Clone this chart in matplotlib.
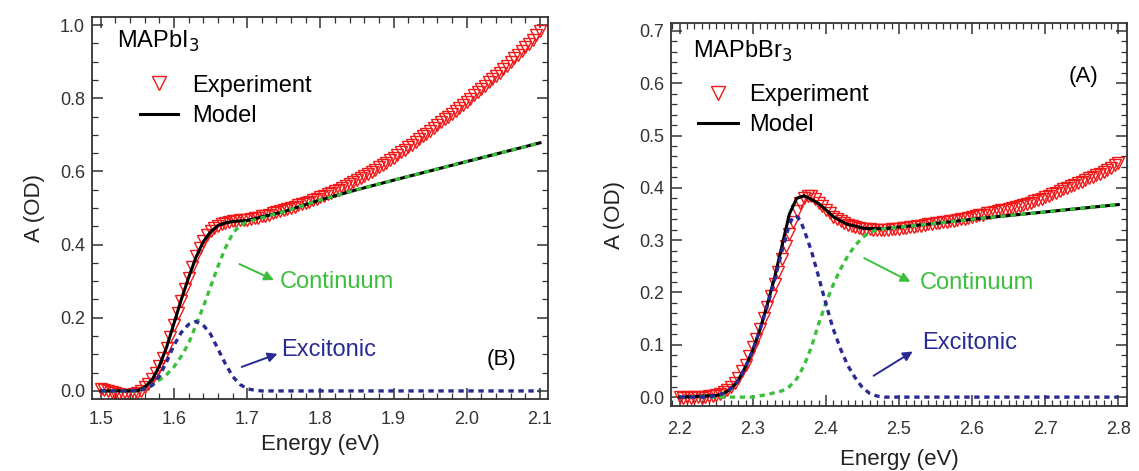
import numpy as np
import matplotlib
matplotlib.use("Agg")
import matplotlib.pyplot as plt
from matplotlib.ticker import MultipleLocator

plt.rcParams["font.family"] = ["Liberation Sans", "DejaVu Sans"]

# ---- MAPbI3 (left panel), experiment sampled every 5 meV from 1.50 to 2.10 eV ----
exp_left = [0.004, 0.002, 0.000, -0.004, -0.007, -0.009, -0.010, -0.011, -0.010, -0.008,
            -0.005, 0.001, 0.010, 0.020, 0.032, 0.048, 0.068, 0.091, 0.118, 0.148,
            0.180, 0.212, 0.245, 0.278, 0.310, 0.340, 0.368, 0.391, 0.410, 0.425,
            0.437, 0.446, 0.452, 0.457, 0.460, 0.462, 0.464, 0.465, 0.466, 0.467,
            0.468, 0.470, 0.472, 0.474, 0.477, 0.479, 0.482, 0.485, 0.488, 0.491,
            0.494, 0.497, 0.500, 0.503, 0.507, 0.510, 0.514, 0.517, 0.521, 0.525,
            0.529, 0.533, 0.537, 0.541, 0.546, 0.550, 0.555, 0.560, 0.565, 0.570,
            0.576, 0.581, 0.587, 0.593, 0.599, 0.605, 0.611, 0.617, 0.624, 0.631,
            0.638, 0.645, 0.652, 0.659, 0.666, 0.673, 0.681, 0.688, 0.696, 0.703,
            0.711, 0.718, 0.726, 0.734, 0.742, 0.750, 0.758, 0.766, 0.774, 0.782,
            0.791, 0.799, 0.808, 0.816, 0.825, 0.834, 0.843, 0.852, 0.861, 0.870,
            0.880, 0.889, 0.899, 0.909, 0.919, 0.929, 0.939, 0.949, 0.960, 0.972,
            0.985]
e_exp_left = np.linspace(1.50, 2.10, len(exp_left))

e_mod_left = [1.50, 1.55, 1.56, 1.57, 1.58, 1.59, 1.60, 1.61, 1.62, 1.63, 1.64, 1.65,
              1.66, 1.67, 1.68, 1.70, 1.75, 1.80, 1.85, 1.90, 2.00, 2.10]
mod_left = [0.0, 0.0, 0.01, 0.03, 0.068, 0.12, 0.185, 0.25, 0.31, 0.365, 0.408, 0.435,
            0.452, 0.459, 0.463, 0.466, 0.49, 0.522, 0.55, 0.576, 0.627, 0.678]

e_cont_left = [1.50, 1.55, 1.56, 1.57, 1.58, 1.59, 1.60, 1.61, 1.62, 1.63, 1.64, 1.65,
               1.66, 1.67, 1.68, 1.69, 1.70, 1.75, 1.80, 1.85, 1.90, 2.00, 2.10]
cont_left = [0.0, 0.0, 0.005, 0.015, 0.03, 0.045, 0.066, 0.095, 0.13, 0.18, 0.23, 0.285,
             0.34, 0.39, 0.43, 0.452, 0.462, 0.49, 0.522, 0.55, 0.576, 0.627, 0.678]

e_exc_left = [1.50, 1.54, 1.56, 1.57, 1.58, 1.59, 1.60, 1.61, 1.62, 1.63, 1.64, 1.65,
              1.66, 1.67, 1.68, 1.69, 1.70, 1.71, 1.72, 2.10]
exc_left = [0.0, 0.0, 0.005, 0.015, 0.04, 0.08, 0.125, 0.16, 0.182, 0.19, 0.18, 0.155,
            0.115, 0.075, 0.04, 0.018, 0.006, 0.002, 0.0, 0.0]

# ---- MAPbBr3 (right panel), experiment sampled every 5 meV from 2.20 to 2.80 eV ----
exp_right = [0.001, -0.002, 0.000, -0.001, 0.001, 0.000, -0.001, 0.001, 0.002, 0.003,
             0.004, 0.006, 0.009, 0.013, 0.019, 0.027, 0.037, 0.049, 0.062, 0.078,
             0.095, 0.112, 0.131, 0.151, 0.172, 0.194, 0.217, 0.240, 0.264, 0.288,
             0.312, 0.335, 0.355, 0.371, 0.381, 0.385, 0.384, 0.379, 0.372, 0.365,
             0.358, 0.351, 0.345, 0.340, 0.336, 0.332, 0.329, 0.327, 0.325, 0.323,
             0.322, 0.321, 0.321, 0.320, 0.320, 0.320, 0.320, 0.320, 0.321, 0.321,
             0.322, 0.323, 0.324, 0.325, 0.326, 0.327, 0.328, 0.329, 0.330, 0.331,
             0.332, 0.333, 0.334, 0.335, 0.336, 0.337, 0.338, 0.340, 0.341, 0.343,
             0.345, 0.346, 0.348, 0.349, 0.351, 0.352, 0.354, 0.355, 0.357, 0.358,
             0.360, 0.362, 0.364, 0.366, 0.368, 0.370, 0.372, 0.374, 0.376, 0.379,
             0.382, 0.385, 0.388, 0.391, 0.394, 0.397, 0.400, 0.403, 0.406, 0.409,
             0.412, 0.415, 0.418, 0.421, 0.424, 0.427, 0.430, 0.434, 0.438, 0.443,
             0.448]
e_exp_right = np.linspace(2.20, 2.80, len(exp_right))

e_mod_right = [2.20, 2.25, 2.26, 2.27, 2.28, 2.29, 2.30, 2.31, 2.32, 2.33, 2.34, 2.35,
               2.36, 2.37, 2.38, 2.39, 2.40, 2.41, 2.42, 2.43, 2.44, 2.45, 2.46, 2.48,
               2.50, 2.55, 2.60, 2.70, 2.80]
mod_right = [0.0, 0.003, 0.007, 0.016, 0.032, 0.058, 0.09, 0.13, 0.178, 0.23, 0.29, 0.35,
             0.38, 0.385, 0.378, 0.37, 0.358, 0.345, 0.337, 0.33, 0.327, 0.323, 0.322,
             0.322, 0.325, 0.332, 0.34, 0.354, 0.368]

e_cont_right = [2.20, 2.30, 2.32, 2.34, 2.35, 2.36, 2.37, 2.38, 2.39, 2.40, 2.41, 2.42,
                2.43, 2.44, 2.45, 2.46, 2.47, 2.48, 2.50, 2.55, 2.60, 2.70, 2.80]
cont_right = [0.0, 0.0, 0.005, 0.012, 0.02, 0.035, 0.06, 0.095, 0.14, 0.18, 0.215, 0.245,
              0.27, 0.29, 0.305, 0.315, 0.32, 0.322, 0.325, 0.332, 0.34, 0.354, 0.368]

e_exc_right = [2.20, 2.24, 2.25, 2.26, 2.27, 2.28, 2.29, 2.30, 2.31, 2.32, 2.33, 2.34,
               2.35, 2.355, 2.36, 2.365, 2.37, 2.38, 2.39, 2.40, 2.41, 2.42, 2.43, 2.44,
               2.45, 2.46, 2.47, 2.48, 2.80]
exc_right = [0.0, 0.0, 0.003, 0.007, 0.016, 0.032, 0.058, 0.09, 0.13, 0.175, 0.225, 0.28,
             0.33, 0.345, 0.345, 0.338, 0.32, 0.28, 0.23, 0.178, 0.13, 0.092, 0.06, 0.037,
             0.018, 0.007, 0.002, 0.0, 0.0]

RED = "#f01818"
GREEN = "#3cbf3c"
BLUE = "#2a2a95"
DOT = (0, (1.6, 1.4))


def draw_panel(ax, e_exp, exp, e_mod, mod, e_cont, cont, e_exc, exc):
    ax.plot(e_exp, exp, linestyle="none", marker="v", markersize=8.5,
            markerfacecolor="none", markeredgecolor=RED, markeredgewidth=1.0,
            label="Experiment", zorder=2)
    ax.plot(e_mod, mod, color="black", lw=2.2, label="Model", zorder=3)
    ax.plot(e_cont, cont, color=GREEN, lw=2.4, linestyle=DOT, zorder=4)
    ax.plot(e_exc, exc, color=BLUE, lw=2.4, linestyle=DOT, zorder=4)
    ax.tick_params(which="both", direction="in", top=True, right=True,
                   labelsize=13, labelcolor="#333333", color="#333333")
    ax.tick_params(which="major", length=8, width=1.1)
    ax.tick_params(which="minor", length=4, width=0.9)
    for s in ax.spines.values():
        s.set_linewidth(1.3)
        s.set_color("#333333")
    ax.set_xlabel("Energy (eV)", fontsize=16, color="#222222")
    ax.set_ylabel("A (OD)", fontsize=16, color="#222222")


fig = plt.figure(figsize=(11.39, 4.71), dpi=100)

# left panel
ax1 = fig.add_axes([0.0808, 0.1529, 0.4003, 0.811])
draw_panel(ax1, e_exp_left, exp_left, e_mod_left, mod_left,
           e_cont_left, cont_left, e_exc_left, exc_left)
ax1.set_xlim(1.488, 2.111)
ax1.set_ylim(-0.022, 1.022)
ax1.xaxis.set_major_locator(MultipleLocator(0.1))
ax1.xaxis.set_minor_locator(MultipleLocator(0.02))
ax1.yaxis.set_major_locator(MultipleLocator(0.2))
ax1.yaxis.set_minor_locator(MultipleLocator(0.05))
ax1.xaxis.set_major_formatter(plt.FormatStrFormatter("%.1f"))
ax1.yaxis.set_major_formatter(plt.FormatStrFormatter("%.1f"))
ax1.tick_params(axis="x", which="major", pad=9)
ax1.tick_params(axis="y", which="major", pad=5)
ax1.xaxis.labelpad = 4
ax1.yaxis.labelpad = 11
ax1.text(1.522, 0.954, "MAPbI$_3$", fontsize=17, va="center", ha="left")
ax1.legend(loc="upper left", bbox_to_anchor=(0.105, 0.849), frameon=False,
           fontsize=17, handlelength=1.6, handletextpad=0.6, borderpad=0,
           borderaxespad=0, labelspacing=0.35, markerscale=1.15)
ax1.text(2.048, 0.085, "(B)", fontsize=16, ha="center", va="center")
ax1.annotate("", xy=(1.740, 0.300), xytext=(1.686, 0.350),
             arrowprops=dict(arrowstyle="-|>", color=GREEN, lw=1.4, mutation_scale=14))
ax1.text(1.745, 0.298, "Continuum", fontsize=17, color=GREEN, va="center", ha="left")
ax1.annotate("", xy=(1.745, 0.104), xytext=(1.689, 0.063),
             arrowprops=dict(arrowstyle="-|>", color=BLUE, lw=1.4, mutation_scale=14))
ax1.text(1.747, 0.112, "Excitonic", fontsize=17, color=BLUE, va="center", ha="left")

# right panel
ax2 = fig.add_axes([0.5891, 0.138, 0.4004, 0.813])
draw_panel(ax2, e_exp_right, exp_right, e_mod_right, mod_right,
           e_cont_right, cont_right, e_exc_right, exc_right)
ax2.set_xlim(2.188, 2.812)
ax2.set_ylim(-0.017, 0.715)
ax2.xaxis.set_major_locator(MultipleLocator(0.1))
ax2.xaxis.set_minor_locator(MultipleLocator(0.01))
ax2.yaxis.set_major_locator(MultipleLocator(0.1))
ax2.yaxis.set_minor_locator(MultipleLocator(0.02))
ax2.xaxis.set_major_formatter(plt.FormatStrFormatter("%.1f"))
ax2.yaxis.set_major_formatter(plt.FormatStrFormatter("%.1f"))
ax2.tick_params(axis="x", which="major", pad=11)
ax2.tick_params(axis="y", which="major", pad=5)
ax2.xaxis.labelpad = 8
ax2.yaxis.labelpad = 10
ax2.text(2.218, 0.660, "MAPbBr$_3$", fontsize=17, va="center", ha="left")
ax2.legend(loc="upper left", bbox_to_anchor=(0.059, 0.841), frameon=False,
           fontsize=17, handlelength=1.7, handletextpad=0.47, borderpad=0,
           borderaxespad=0, labelspacing=0.35, markerscale=1.15)
ax2.text(2.752, 0.612, "(A)", fontsize=16, ha="center", va="center")
ax2.annotate("", xy=(2.519, 0.218), xytext=(2.449, 0.268),
             arrowprops=dict(arrowstyle="-|>", color=GREEN, lw=1.4, mutation_scale=14))
ax2.text(2.529, 0.218, "Continuum", fontsize=17, color=GREEN, va="center", ha="left")
ax2.annotate("", xy=(2.522, 0.090), xytext=(2.462, 0.038),
             arrowprops=dict(arrowstyle="-|>", color=BLUE, lw=1.4, mutation_scale=14))
ax2.text(2.531, 0.103, "Excitonic", fontsize=17, color=BLUE, va="center", ha="left")

fig.savefig("out.png", dpi=100)
